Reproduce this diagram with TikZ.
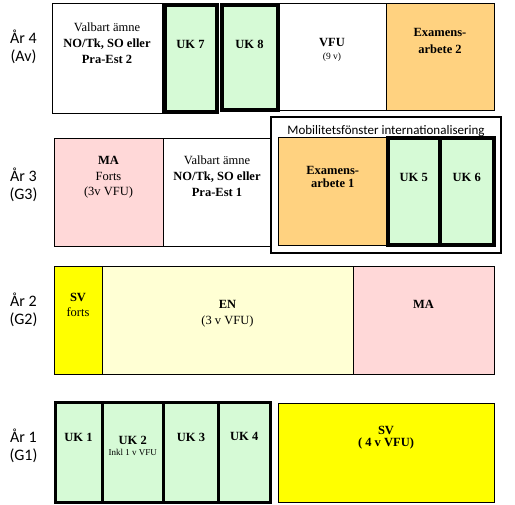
\documentclass[tikz,border=0pt]{standalone}
\usepackage{fontspec}
\setmainfont{Liberation Serif}
\newfontfamily\calibri{Carlito}
\usetikzlibrary{positioning}

\definecolor{ukgreen}{RGB}{214,250,214}
\definecolor{mapink}{RGB}{255,216,216}
\definecolor{exorange}{RGB}{255,210,128}
\definecolor{svyellow}{RGB}{255,255,0}
\definecolor{enyellow}{RGB}{255,255,212}

\begin{document}
\begin{tikzpicture}[x=1pt, y=-1pt, font=\fontsize{12.5}{16}\selectfont,
	box/.style n args={3}{draw, inner sep=0pt, outer sep=0pt, anchor=north west, align=center,
		minimum width=#1, text height=#3, text depth={#2-#3}},
	uk/.style={fill=ukgreen, line width=4pt},
	year/.style={font=\calibri\fontsize{16}{18.5}\selectfont, align=center, anchor=base}]
	\useasboundingbox (0,0) rectangle (515,505);

	% Year 4
	\node (y4) at (23.5,62) [year] {År 4\\(Av)};
	\node[box={110}{110}{61}] (val2) at (52,3) {Valbart ämne\\\textbf{NO/Tk, SO eller}\\\textbf{Pra-Est 2}};
	\node[box={108}{107}{57}] (vfu) at (278,3) {\textbf{VFU}\\[-3pt]{\fontsize{9.5}{11}\selectfont(9 v)}};
	\node[box={108}{107}{51}, fill=exorange] (ex2) at (386,3) {\textbf{Examens-}\\[1pt]\textbf{arbete 2}};
	\node[box={52}{107}{43.5}, uk] (uk7) at (164.5,5.5) {\textbf{UK 7}};
	\node[box={56}{104.5}{43.5}, uk] (uk8) at (221.5,5.5) {\textbf{UK 8}};

	% Year 3
	\node (y3) at (23.5,200) [year] {År 3\\(G3)};
	\node[box={109}{108}{58}, fill=mapink] (ma3) at (54,138) {\textbf{MA}\\Forts\\[-1pt](3v VFU)};
	\node[box={108}{108}{59}] (val1) [right=0pt of ma3] {Valbart ämne\\\textbf{NO/Tk, SO eller}\\\textbf{Pra-Est 1}};
	\node[box={230}{136}{18}, fill=white, line width=2pt, font=\calibri\fontsize{13}{15}\selectfont] (mob) at (271,117) {Mobilitetsfönster internationalisering};
	\node[box={109.5}{107.5}{50.5}, fill=exorange] (ex1) at (278,137.5) {\textbf{Examens-}\\[-3pt]\textbf{arbete 1}};
	\node[box={52.5}{106.5}{43.5}, uk] (uk5) at (387.5,138.5) {\textbf{UK 5}};
	\node[box={53.5}{106.5}{43.5}, uk] (uk6) [right=0pt of uk5] {\textbf{UK 6}};

	% Year 2
	\node (y2) at (23.5,325) [year] {År 2\\(G2)};
	\node[box={48}{108}{51}, fill=svyellow] (svf) at (54,266) {\textbf{SV}\\[-1pt]forts};
	\node[box={251}{108}{59}, fill=enyellow] (en) [right=0pt of svf] {\textbf{EN}\\(3 v VFU)};
	\node[box={141}{108}{43}, fill=mapink] (ma2) [right=0pt of en] {\textbf{MA}};

	% Year 1
	\node (y1) at (23.5,461) [year] {År 1\\(G1)};
	\node[box={216}{99}{44}, fill=svyellow] (sv) at (278,403) {\textbf{SV}\\[-4pt]\textbf{( 4 v VFU)}};
	\node[box={47}{99.5}{39}, uk, line width=3pt] (uk1) at (55,403) {\textbf{UK 1}};
	\node[box={61.5}{99.5}{53}, uk, line width=3pt] (uk2) [right=0pt of uk1] {\textbf{UK 2}\\[-5pt]{\fontsize{9}{10}\selectfont Inkl 1 v VFU}};
	\node[box={55}{99.5}{39}, uk, line width=3pt] (uk3) [right=0pt of uk2] {\textbf{UK 3}};
	\node[box={51.5}{99.5}{38}, uk, line width=3pt] (uk4) [right=0pt of uk3] {\textbf{UK 4}};

\end{tikzpicture}
\end{document}
